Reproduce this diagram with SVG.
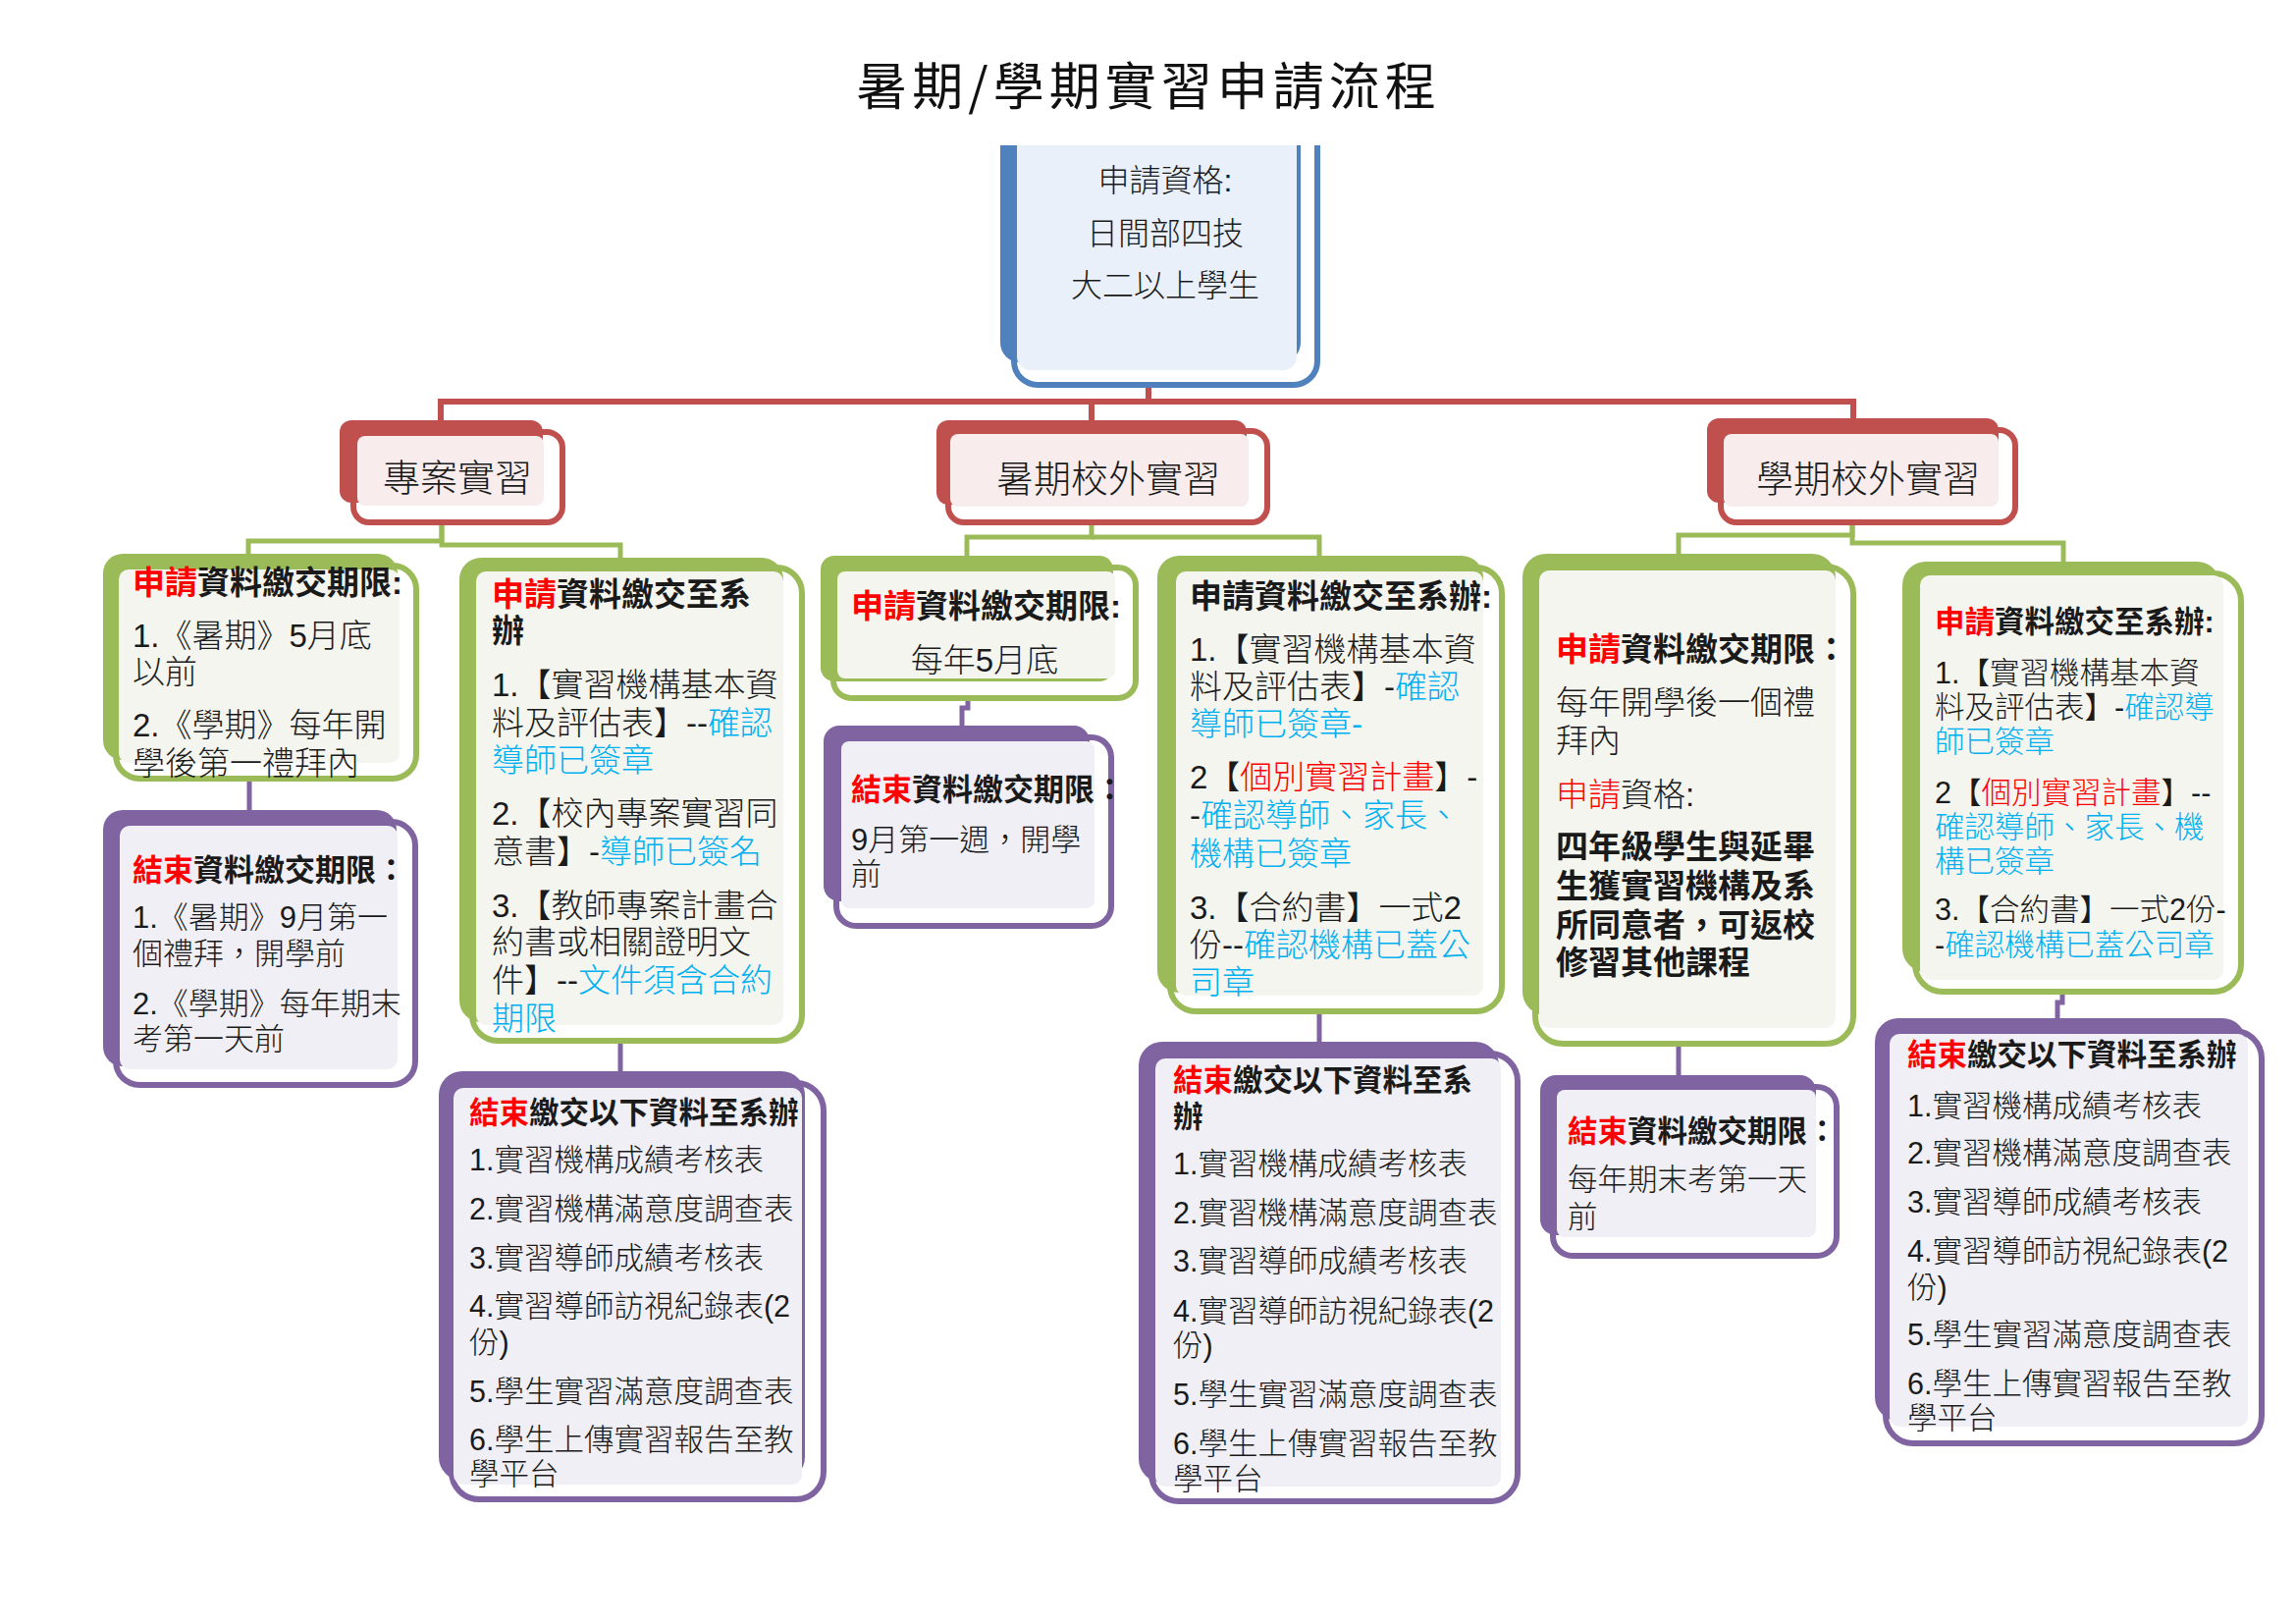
<svg xmlns="http://www.w3.org/2000/svg" width="2339" height="1654" viewBox="0 0 2339 1654">
<defs>
<style>
.t{font-family:"Liberation Sans","Noto Sans CJK TC","Noto Sans CJK SC",sans-serif;fill:#1a1a1a;font-weight:300}
.b{font-weight:700}
.rd{fill:#FF0000}
.cy{fill:#00B0F0}
.f38{font-size:38px}
.f33{font-size:33px}
.f32{font-size:32px}
.f31{font-size:31px}
.f30{font-size:30.5px}
.bk-b{fill:#4F81BD}.fr-b{fill:#fff;stroke:#4F81BD;stroke-width:6}.in-b{fill:#EAF0F9}
.bk-r{fill:#C0504D}.fr-r{fill:#fff;stroke:#C0504D;stroke-width:6}.in-r{fill:#F8ECEC}
.bk-g{fill:#9BBB59}.fr-g{fill:#fff;stroke:#9BBB59;stroke-width:6}.in-g{fill:#F4F5EF}
.bk-p{fill:#8064A2}.fr-p{fill:#fff;stroke:#8064A2;stroke-width:6}.in-p{fill:#EFEFF5}
.cr{fill:none;stroke:#C0504D;stroke-width:6}
.cg{fill:none;stroke:#9BBB59;stroke-width:5}
.cp{fill:none;stroke:#8064A2;stroke-width:5}
</style>
<clipPath id="topclip"><rect x="990" y="148" width="380" height="260"/></clipPath>
</defs>
<rect width="2339" height="1654" fill="#fff"/>

<text id="title" x="1170" y="107" font-family="'Noto Sans CJK TC','Noto Sans CJK SC',sans-serif" font-size="52" letter-spacing="5" text-anchor="middle" fill="#111">暑期/學期實習申請流程</text>

<g id="connectors">
<path class="cr" d="M1170,395 V409"/>
<path class="cr" d="M449,430 V409 H1888 V428"/>
<path class="cr" d="M1112,409 V430"/>
<path class="cg" d="M450,535 V551 H253 V566"/>
<path class="cg" d="M450,535 V555 H632 V571"/>
<path class="cg" d="M1112,535 V547 H985 V568"/>
<path class="cg" d="M1112,547 H1344 V568"/>
<path class="cg" d="M1887,535 V545 H1710 V566"/>
<path class="cg" d="M1887,535 V553 H2102 V574"/>
<path class="cp" d="M254,794 V827"/>
<path class="cp" d="M632,1061 V1093"/>
<path class="cp" d="M986,712 V721 H980 V741"/>
<path class="cp" d="M1344,1031 V1063"/>
<path class="cp" d="M1710,1064 V1097"/>
<path class="cp" d="M2101,1011 V1021 H2096 V1039"/>
</g>

<g id="node-top">
<g clip-path="url(#topclip)">
<rect class="fr-b" x="1033" y="100" width="309" height="292" rx="24"/>
<rect class="bk-b" x="1019" y="100" width="306" height="269" rx="20"/>
<rect class="in-b" x="1036" y="100" width="285" height="277" rx="14"/>
</g>
<text class="t f32" x="1187" y="195" text-anchor="middle">申請資格:</text>
<text class="t f32" x="1187" y="249" text-anchor="middle">日間部四技</text>
<text class="t f32" x="1187" y="302" text-anchor="middle">大二以上學生</text>
</g>

<g id="node-project">
<rect class="fr-r" x="360" y="440" width="213" height="92" rx="16"/>
<rect class="bk-r" x="346" y="428" width="207" height="84" rx="12"/>
<rect class="in-r" x="364" y="444" width="190" height="71" rx="8"/>
<text class="t f38" x="466" y="500" text-anchor="middle">專案實習</text>
</g>

<g id="node-summer">
<rect class="fr-r" x="966" y="439" width="325" height="93" rx="16"/>
<rect class="bk-r" x="954" y="428" width="316" height="86" rx="12"/>
<rect class="in-r" x="968" y="442" width="304" height="74" rx="8"/>
<text class="t f38" x="1129" y="501" text-anchor="middle">暑期校外實習</text>
</g>

<g id="node-semester">
<rect class="fr-r" x="1753" y="438" width="300" height="94" rx="16"/>
<rect class="bk-r" x="1739" y="426" width="297" height="86" rx="12"/>
<rect class="in-r" x="1756" y="442" width="280" height="74" rx="8"/>
<text class="t f38" x="1903" y="501" text-anchor="middle">學期校外實習</text>
</g>

<g id="node-a1">
<rect class="fr-g" x="118" y="576" width="306" height="217" rx="24"/>
<rect class="bk-g" x="105" y="564" width="300" height="210" rx="20"/>
<rect class="in-g" x="121" y="580" width="286" height="197" rx="10"/>
<text class="t f33 b" x="135" y="605"><tspan class="rd">申請</tspan>資料繳交期限:</text>
<text class="t f33" x="135" y="659">1.《暑期》5月底</text>
<text class="t f33" x="135" y="696">以前</text>
<text class="t f33" x="135" y="750">2.《學期》每年開</text>
<text class="t f33" x="135" y="789">學後第一禮拜內</text>
</g>

<g id="node-a2">
<rect class="fr-p" x="118" y="837" width="305" height="268" rx="24"/>
<rect class="bk-p" x="105" y="825" width="299" height="261" rx="20"/>
<rect class="in-p" x="122" y="841" width="283" height="248" rx="10"/>
<text class="t f31 b" x="135" y="897"><tspan class="rd">結束</tspan>資料繳交期限：</text>
<text class="t f31" x="135" y="945">1.《暑期》9月第一</text>
<text class="t f31" x="135" y="982">個禮拜，開學前</text>
<text class="t f31" x="135" y="1033">2.《學期》每年期末</text>
<text class="t f31" x="135" y="1069">考第一天前</text>
</g>

<g id="node-b1">
<rect class="fr-g" x="481" y="578" width="336" height="482" rx="26"/>
<rect class="bk-g" x="468" y="568" width="330" height="473" rx="22"/>
<rect class="in-g" x="485" y="582" width="313" height="462" rx="10"/>
<text class="t f33 b" x="501" y="617"><tspan class="rd">申請</tspan>資料繳交至系</text>
<text class="t f33 b" x="501" y="654">辦</text>
<text class="t f33" x="501" y="709">1.【實習機構基本資</text>
<text class="t f33" x="501" y="748">料及評估表】--<tspan class="cy">確認</tspan></text>
<text class="t f33 cy" x="501" y="786">導師已簽章</text>
<text class="t f33" x="501" y="840">2.【校內專案實習同</text>
<text class="t f33" x="501" y="879">意書】-<tspan class="cy">導師已簽名</tspan></text>
<text class="t f33" x="501" y="934">3.【教師專案計畫合</text>
<text class="t f33" x="501" y="971">約書或相關證明文</text>
<text class="t f33" x="501" y="1010">件】--<tspan class="cy">文件須含合約</tspan></text>
<text class="t f33 cy" x="501" y="1049">期限</text>
</g>

<g id="node-b2">
<rect class="fr-p" x="460" y="1103" width="379" height="424" rx="28"/>
<rect class="bk-p" x="447" y="1091" width="373" height="417" rx="24"/>
<rect class="in-p" x="462" y="1108" width="355" height="404" rx="10"/>
<text class="t f30 b" x="478" y="1144"><tspan class="rd">結束</tspan>繳交以下資料至系辦</text>
<text class="t f30" x="478" y="1192">1.實習機構成績考核表</text>
<text class="t f30" x="478" y="1242">2.實習機構滿意度調查表</text>
<text class="t f30" x="478" y="1292">3.實習導師成績考核表</text>
<text class="t f30" x="478" y="1341">4.實習導師訪視紀錄表(2</text>
<text class="t f30" x="478" y="1378">份)</text>
<text class="t f30" x="478" y="1428">5.學生實習滿意度調查表</text>
<text class="t f30" x="478" y="1477">6.學生上傳實習報告至教</text>
<text class="t f30" x="478" y="1512">學平台</text>
</g>

<g id="node-c1">
<rect class="fr-g" x="849" y="578" width="308" height="133" rx="18"/>
<rect class="bk-g" x="836" y="566" width="298" height="128" rx="14"/>
<rect class="in-g" x="853" y="582" width="283" height="109" rx="8"/>
<text class="t f33 b" x="867" y="629"><tspan class="rd">申請</tspan>資料繳交期限:</text>
<text class="t f33" x="1003" y="684" text-anchor="middle">每年5月底</text>
</g>

<g id="node-c2">
<rect class="fr-p" x="852" y="751" width="280" height="192" rx="20"/>
<rect class="bk-p" x="839" y="739" width="271" height="179" rx="16"/>
<rect class="in-p" x="857" y="755" width="258" height="170" rx="8"/>
<text class="t f31 b" x="867" y="815"><tspan class="rd">結束</tspan>資料繳交期限：</text>
<text class="t f31" x="867" y="866">9月第一週，開學</text>
<text class="t f31" x="867" y="901">前</text>
</g>

<g id="node-d1">
<rect class="fr-g" x="1192" y="578" width="338" height="452" rx="26"/>
<rect class="bk-g" x="1179" y="566" width="332" height="445" rx="22"/>
<rect class="in-g" x="1198" y="582" width="313" height="432" rx="10"/>
<text class="t f33 b" x="1212" y="619">申請資料繳交至系辦:</text>
<text class="t f33" x="1212" y="673">1.【實習機構基本資</text>
<text class="t f33" x="1212" y="711">料及評估表】-<tspan class="cy">確認</tspan></text>
<text class="t f33 cy" x="1212" y="749">導師已簽章-</text>
<text class="t f33" x="1212" y="803">2【<tspan class="rd">個別實習計畫</tspan>】-</text>
<text class="t f33" x="1212" y="842">-<tspan class="cy">確認導師、家長、</tspan></text>
<text class="t f33 cy" x="1212" y="881">機構已簽章</text>
<text class="t f33" x="1212" y="936">3.【合約書】一式2</text>
<text class="t f33" x="1212" y="974">份--<tspan class="cy">確認機構已蓋公</tspan></text>
<text class="t f33 cy" x="1212" y="1012">司章</text>
</g>

<g id="node-d2">
<rect class="fr-p" x="1173" y="1073" width="373" height="456" rx="28"/>
<rect class="bk-p" x="1160" y="1061" width="367" height="449" rx="24"/>
<rect class="in-p" x="1177" y="1078" width="352" height="436" rx="10"/>
<text class="t f30 b" x="1195" y="1111"><tspan class="rd">結束</tspan>繳交以下資料至系</text>
<text class="t f30 b" x="1195" y="1148">辦</text>
<text class="t f30" x="1195" y="1196">1.實習機構成績考核表</text>
<text class="t f30" x="1195" y="1246">2.實習機構滿意度調查表</text>
<text class="t f30" x="1195" y="1295">3.實習導師成績考核表</text>
<text class="t f30" x="1195" y="1346">4.實習導師訪視紀錄表(2</text>
<text class="t f30" x="1195" y="1381">份)</text>
<text class="t f30" x="1195" y="1431">5.學生實習滿意度調查表</text>
<text class="t f30" x="1195" y="1481">6.學生上傳實習報告至教</text>
<text class="t f30" x="1195" y="1517">學平台</text>
</g>

<g id="node-e1">
<rect class="fr-g" x="1564" y="577" width="324" height="486" rx="28"/>
<rect class="bk-g" x="1551" y="564" width="319" height="470" rx="24"/>
<rect class="in-g" x="1568" y="581" width="302" height="466" rx="10"/>
<text class="t f33 b" x="1585" y="673"><tspan class="rd">申請</tspan>資料繳交期限：</text>
<text class="t f33" x="1585" y="727">每年開學後一個禮</text>
<text class="t f33" x="1585" y="766">拜內</text>
<text class="t f33" x="1585" y="821"><tspan class="rd">申請</tspan>資格:</text>
<text class="t f33 b" x="1585" y="874">四年級學生與延畢</text>
<text class="t f33 b" x="1585" y="914">生獲實習機構及系</text>
<text class="t f33 b" x="1585" y="954">所同意者，可返校</text>
<text class="t f33 b" x="1585" y="992">修習其他課程</text>
</g>

<g id="node-e2">
<rect class="fr-p" x="1582" y="1107" width="289" height="172" rx="20"/>
<rect class="bk-p" x="1569" y="1095" width="281" height="163" rx="16"/>
<rect class="in-p" x="1586" y="1110" width="264" height="150" rx="8"/>
<text class="t f30 b" x="1597" y="1163"><tspan class="rd">結束</tspan>資料繳交期限：</text>
<text class="t f30" x="1597" y="1212">每年期末考第一天</text>
<text class="t f30" x="1597" y="1250">前</text>
</g>

<g id="node-f1">
<rect class="fr-g" x="1951" y="584" width="332" height="426" rx="28"/>
<rect class="bk-g" x="1938" y="572" width="324" height="418" rx="24"/>
<rect class="in-g" x="1956" y="586" width="309" height="412" rx="10"/>
<text class="t f30 b" x="1971" y="644"><tspan class="rd">申請</tspan>資料繳交至系辦:</text>
<text class="t f30" x="1971" y="696">1.【實習機構基本資</text>
<text class="t f30" x="1971" y="731">料及評估表】-<tspan class="cy">確認導</tspan></text>
<text class="t f30 cy" x="1971" y="766">師已簽章</text>
<text class="t f30" x="1971" y="818">2【<tspan class="rd">個別實習計畫</tspan>】--</text>
<text class="t f30 cy" x="1971" y="853">確認導師、家長、機</text>
<text class="t f30 cy" x="1971" y="888">構已簽章</text>
<text class="t f30" x="1971" y="937">3.【合約書】一式2份-</text>
<text class="t f30" x="1971" y="973">-<tspan class="cy">確認機構已蓋公司章</tspan></text>
</g>

<g id="node-f2">
<rect class="fr-p" x="1921" y="1050" width="383" height="420" rx="28"/>
<rect class="bk-p" x="1910" y="1037" width="378" height="410" rx="24"/>
<rect class="in-p" x="1925" y="1053" width="365" height="400" rx="10"/>
<text class="t f30 b" x="1943" y="1085"><tspan class="rd">結束</tspan>繳交以下資料至系辦</text>
<text class="t f30" x="1943" y="1137">1.實習機構成績考核表</text>
<text class="t f30" x="1943" y="1185">2.實習機構滿意度調查表</text>
<text class="t f30" x="1943" y="1235">3.實習導師成績考核表</text>
<text class="t f30" x="1943" y="1285">4.實習導師訪視紀錄表(2</text>
<text class="t f30" x="1943" y="1322">份)</text>
<text class="t f30" x="1943" y="1370">5.學生實習滿意度調查表</text>
<text class="t f30" x="1943" y="1420">6.學生上傳實習報告至教</text>
<text class="t f30" x="1943" y="1455">學平台</text>
</g>
</svg>
